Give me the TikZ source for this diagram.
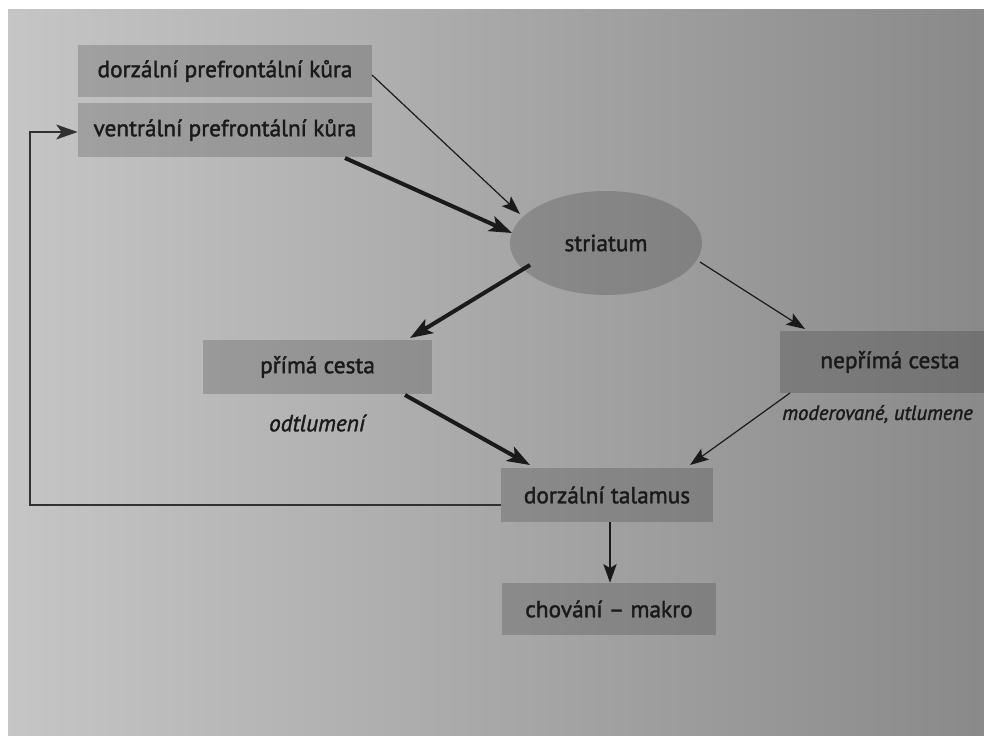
\documentclass[tikz,border=0pt]{standalone}
\usepackage{fontspec}
\setmainfont[FakeBold=1.6,AutoFakeBold=1.6]{PT Sans}
\usetikzlibrary{arrows.meta,shapes.geometric}
\definecolor{ink}{HTML}{1A1A1A}
\begin{document}
\begin{tikzpicture}[x=0.75pt,y=-0.75pt,
  box/.style={fill=black,fill opacity=0.17,text opacity=1,text=ink,inner sep=0pt,font=\fontsize{17.5}{20}\selectfont\bfseries},
  lbl/.style={text=ink,inner sep=0pt,font=\fontsize{17.5}{20}\selectfont\bfseries\itshape},
  thick arrow/.style={draw=ink,line width=3pt,-{Stealth[length=17pt,width=12pt,inset=4pt]}},
  thin arrow/.style={draw=ink,line width=0.9pt,-{Stealth[length=14pt,width=10pt,inset=3pt]}},
  back arrow/.style={draw=ink!90,line width=2.2pt,-{Stealth[length=16pt,width=11pt,inset=4pt]}}]
\useasboundingbox (0,0) rectangle (984,735);
\clip (0,0) rectangle (984,735);
\fill[white] (0,0) rectangle (984,735);
\shade[left color=gray!45, right color=gray!92, shading angle=90] (8,10) rectangle (984,735);

\node[box,minimum width=220.5pt,minimum height=39pt] (dpk) at (225,71) {dorzální prefrontální kůra};
\node[box,minimum width=220.5pt,minimum height=41pt] (vpk) at (225,130) {ventrální prefrontální kůra};
\node[box,ellipse,minimum width=144pt,minimum height=78pt] (str) at (606,243) {striatum};
\node[box,minimum width=172pt,minimum height=40.5pt] (pc) at (317.5,367) {přímá cesta};
\node[lbl] (odt) at (317,423) {odtlumení};
\node[box,minimum width=165pt,minimum height=46pt] (npc) at (890,362) {nepřímá cesta};
\node[lbl,anchor=west,font=\fontsize{15.5}{18}\selectfont\bfseries\itshape] (mod) at (782,414) {moderované, utlumene};
\node[box,minimum width=159pt,minimum height=40.5pt] (tal) at (607,495) {dorzální talamus};
\node[box,minimum width=160.5pt,minimum height=39pt] (chm) at (609,609) {chování – makro};

\coordinate (a1) at (372,75);
\coordinate (a2) at (345,158);
\coordinate (b1) at (530,265);
\coordinate (b2) at (700,262);
\coordinate (c1) at (405,395);
\coordinate (c2) at (790,393);
\coordinate (fb1) at (30,505);
\coordinate (fb2) at (30,132);

\draw[thin arrow] (a1) -- (520,214);
\draw[thick arrow] (a2) -- (512,233);
\draw[thick arrow] (b1) -- (410,338);
\draw[thin arrow] (b2) -- (805,329);
\draw[thick arrow] (c1) -- (530,465);
\draw[thin arrow] (c2) -- (690,465);
\draw[thin arrow] (tal.south -| 610,0) -- (chm.north -| 610,0);
\draw[back arrow] (tal.west |- fb1) -- (fb1) -- (fb2) -- (vpk.west |- fb2);
\end{tikzpicture}
\end{document}
